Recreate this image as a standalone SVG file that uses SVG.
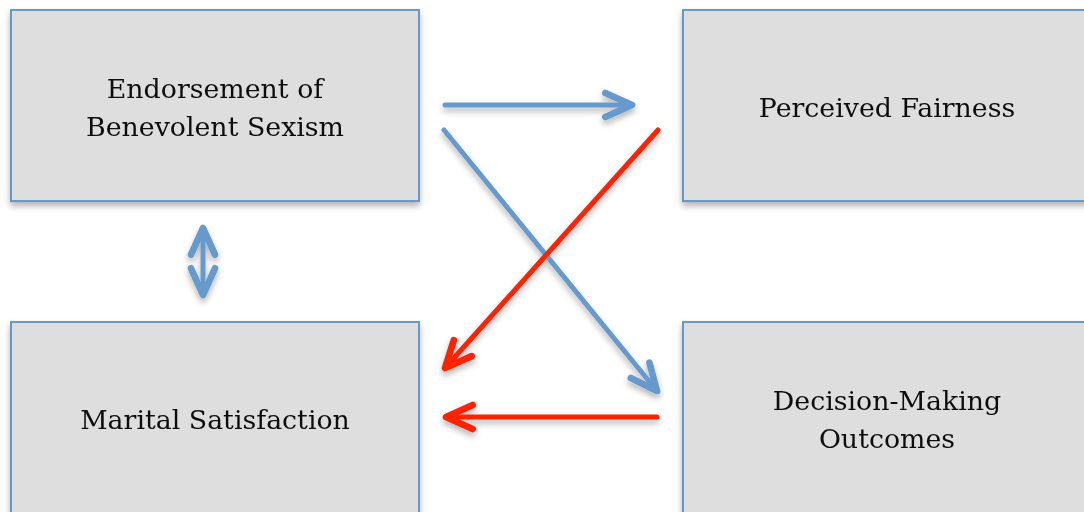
<svg xmlns="http://www.w3.org/2000/svg" width="1084" height="512" viewBox="0 0 1084 512">
<style>
.box{fill:#dedede;stroke:#6a98cb;stroke-width:2}
.lbl{font-family:"DejaVu Serif","Liberation Serif",serif;font-size:26.8px;fill:#111;text-anchor:middle}
.blue{stroke:#6699cc;stroke-width:5;fill:none;stroke-linecap:round}
.red{stroke:#ff2200;stroke-width:5;fill:none;stroke-linecap:round}
</style>
<defs>
<filter id="sh" x="-10%" y="-10%" width="120%" height="130%">
<feGaussianBlur in="SourceAlpha" stdDeviation="3"/>
<feOffset dx="0" dy="4" result="b"/>
<feComponentTransfer><feFuncA type="linear" slope="0.3"/></feComponentTransfer>
<feMerge><feMergeNode/><feMergeNode in="SourceGraphic"/></feMerge>
</filter>
<marker id="hb" markerUnits="userSpaceOnUse" markerWidth="40" markerHeight="40" viewBox="-25 -15 30 30" refX="0" refY="0" orient="auto-start-reverse">
<path d="M-20,-9 L0,0 L-20,9" fill="none" stroke="#6699cc" stroke-width="5" stroke-linecap="round" stroke-linejoin="round"/>
</marker>
<marker id="hr" markerUnits="userSpaceOnUse" markerWidth="40" markerHeight="40" viewBox="-25 -15 30 30" refX="0" refY="0" orient="auto">
<path d="M-20,-9 L0,0 L-20,9" fill="none" stroke="#ff2200" stroke-width="5" stroke-linecap="round" stroke-linejoin="round"/>
</marker>
</defs>
<rect width="1084" height="512" fill="#ffffff"/>
<g id="n-endorsement" filter="url(#sh)">
<rect class="box" x="11" y="10" width="408" height="191"/>
<text class="lbl" x="215" y="98">Endorsement of</text>
<text class="lbl" x="215" y="136">Benevolent Sexism</text>
</g>
<g id="n-fairness" filter="url(#sh)">
<rect class="box" x="683" y="10" width="408" height="191"/>
<text class="lbl" x="887" y="117">Perceived Fairness</text>
</g>
<g id="n-marital" filter="url(#sh)">
<rect class="box" x="11" y="322" width="408" height="200"/>
<text class="lbl" x="215" y="429">Marital Satisfaction</text>
</g>
<g id="n-decision" filter="url(#sh)">
<rect class="box" x="683" y="322" width="408" height="200"/>
<text class="lbl" x="887" y="410">Decision-Making</text>
<text class="lbl" x="887" y="448">Outcomes</text>
</g>
<g id="connectors" filter="url(#sh)">
<line class="blue" x1="445" y1="105" x2="632" y2="105" marker-end="url(#hb)"/>
<line class="blue" x1="444" y1="130" x2="657" y2="391" marker-end="url(#hb)"/>
<line class="red" x1="658" y1="130" x2="445" y2="368" marker-end="url(#hr)"/>
<line class="red" x1="657" y1="417" x2="446" y2="417" marker-end="url(#hr)"/>
<line class="blue" x1="203" y1="228" x2="203" y2="295" marker-start="url(#hb)" marker-end="url(#hb)"/>
</g>
</svg>
